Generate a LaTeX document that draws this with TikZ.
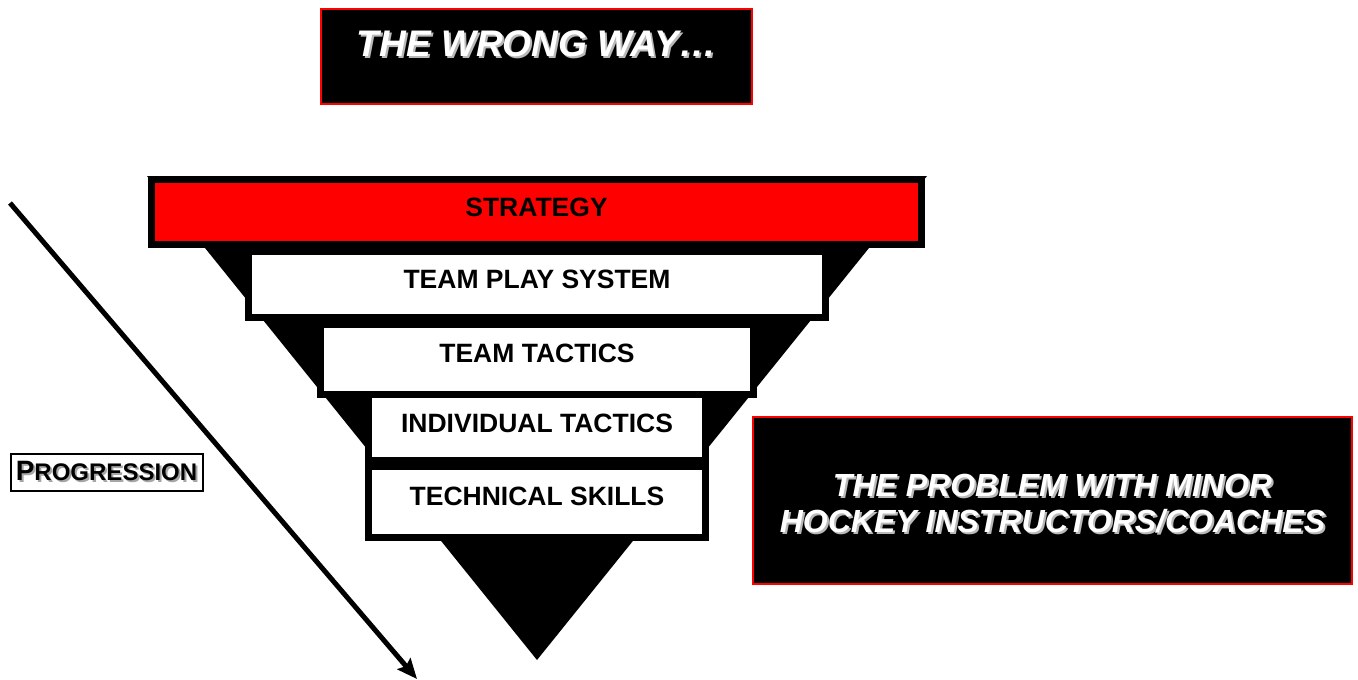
\documentclass[tikz,border=0pt]{standalone}
\usepackage{fontspec}
\setmainfont{Liberation Sans}
\usepackage{xcolor}
\usepackage{tikz}
\usetikzlibrary{arrows.meta}

\newcommand{\shtext}[2]{\makebox[0pt][l]{\hspace{2pt}\raisebox{-2pt}{\textcolor{#2}{#1}}}#1}

\begin{document}
\begin{tikzpicture}[x=1pt,y=-1pt,>={Stealth[length=20pt,width=17pt,inset=3pt]},semithick]
        \tikzstyle{banner}=[draw=red,line width=2pt,fill=black,text=white,
            font=\fontsize{37}{42}\selectfont\bfseries\itshape]
        \tikzstyle{band}=[draw=black,line width=7pt,fill=white,text=black,
            minimum height=66pt,text height=18pt,text depth=10pt,
            font=\fontsize{26.5}{30}\selectfont\bfseries]

        \useasboundingbox (0,0) rectangle (1358,680);

        % funnel
        \coordinate (TL) at (147,176);
        \coordinate (TR) at (927,176);
        \coordinate (apex) at (537,660);
        \fill[black] (TL) -- (TR) -- (apex) -- cycle;

        \node[band,fill=red,minimum width=770pt,minimum height=65pt] (strategy) at (536.5,212) {STRATEGY};
        \node[band,minimum width=577pt] (system) at (537,284.5) {TEAM PLAY SYSTEM};
        \node[band,minimum width=433pt,minimum height=70pt,text depth=12pt] (teamtac) at (537,359.5) {TEAM TACTICS};
        \node[band,minimum width=337pt,text depth=8pt] (indtac) at (537,427.5) {INDIVIDUAL TACTICS};
        \node[band,minimum width=337pt,minimum height=71pt,text depth=12pt] (skills) at (537,502) {TECHNICAL SKILLS};

        % titles
        \node[banner,minimum width=431pt,minimum height=95pt,
            text height=26pt,text depth=27pt] (wrong) at (536.5,56.5)
            {\shtext{THE WRONG WAY…}{gray!55}};
        \node[banner,minimum width=599pt,minimum height=167pt,
            font=\fontsize{32}{36}\selectfont\bfseries\itshape] (problem) at (1052.5,500.5)
            {\begin{tabular}{@{}c@{}}
                \rule{0pt}{38pt}\shtext{THE PROBLEM WITH MINOR}{gray!55}\\
                \shtext{HOCKEY INSTRUCTORS/COACHES}{gray!55}
             \end{tabular}};

        % progression
        \node[draw=black,line width=2pt,minimum width=192pt,minimum height=37pt,
            inner sep=0pt,font=\bfseries] (prog) at (106.5,472)
            {\shtext{\fontsize{28}{30}\selectfont P}{gray!70}\shtext{\fontsize{24}{30}\selectfont ROGRESSION}{gray!70}};

        \coordinate (start) at (10,203);
        \coordinate (stop) at (417,679);
        \draw[->,line width=5pt] (start) -- (stop);
    \end{tikzpicture}
\end{document}
